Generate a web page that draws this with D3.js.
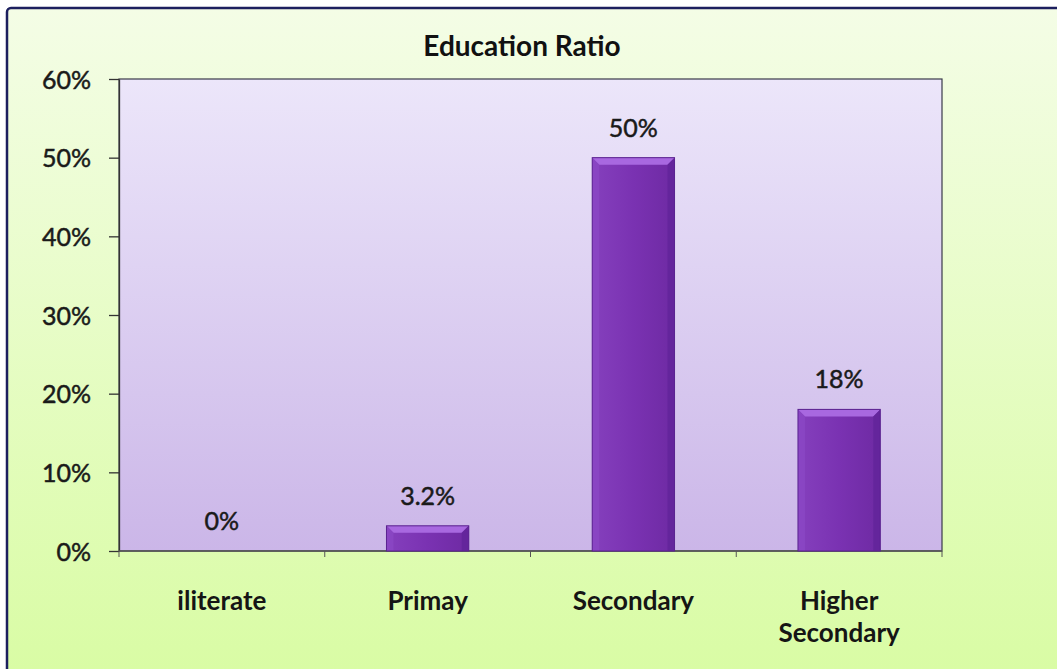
<!DOCTYPE html>
<html><head><meta charset="utf-8">
<script src="https://cdn.jsdelivr.net/npm/d3@7"></script>
<style>html,body{margin:0;padding:0;background:#fff;}svg{display:block;}</style>
</head><body>
<script>
const categories = ["iliterate", "Primay", "Secondary", "Higher Secondary"];
const values = [0, 3.2, 50, 18];
const valueLabels = ["0%", "3.2%", "50%", "18%"];
const yTicks = [0, 10, 20, 30, 40, 50, 60];
const title = "Education Ratio";

const W = 1057, H = 669;
const plot = {left: 119, top: 79, right: 942, bottom: 551};
const FONT = "Lato, 'Open Sans', sans-serif";
const svg = d3.select("body").append("svg").attr("width", W).attr("height", H);
const defs = svg.append("defs");

const bg = defs.append("linearGradient").attr("id","bg").attr("x1",0).attr("y1",0).attr("x2",0).attr("y2",1);
bg.append("stop").attr("offset","0%").attr("stop-color","#f4fde6");
bg.append("stop").attr("offset","100%").attr("stop-color","#d8fca2");
const pg = defs.append("linearGradient").attr("id","pg").attr("x1",0).attr("y1",0).attr("x2",0).attr("y2",1);
pg.append("stop").attr("offset","0%").attr("stop-color","#ece6fa");
pg.append("stop").attr("offset","100%").attr("stop-color","#cbb6e8");
const barG = defs.append("linearGradient").attr("id","barg").attr("x1",0).attr("y1",0).attr("x2",1).attr("y2",0);
barG.append("stop").attr("offset","0%").attr("stop-color","#8540bd");
barG.append("stop").attr("offset","50%").attr("stop-color","#7a32b2");
barG.append("stop").attr("offset","100%").attr("stop-color","#6e2aa3");

svg.append("rect").attr("width",W).attr("height",H).attr("fill","#ffffff");
svg.append("rect").attr("x",7).attr("y",8).attr("width",W+20).attr("height",H+20)
  .attr("rx",4).attr("fill","url(#bg)").attr("stroke","#1c1f5e").attr("stroke-width",2.5);

// plot area
svg.append("rect").attr("x",plot.left).attr("y",plot.top)
  .attr("width",plot.right-plot.left).attr("height",plot.bottom-plot.top)
  .attr("fill","url(#pg)").attr("stroke","#3a3a4a").attr("stroke-width",1.2);

const x = d3.scaleBand().domain(categories).range([plot.left, plot.right])
  .paddingInner(0.6).paddingOuter(0.3);
const y = d3.scaleLinear().domain([0, 60]).range([plot.bottom, plot.top]);

// y axis
const yAxis = svg.append("g").attr("transform",`translate(${plot.left},0)`)
  .call(d3.axisLeft(y).tickValues(yTicks).tickFormat(d => d + "%").tickSize(10).tickSizeOuter(0).tickPadding(18));
yAxis.select(".domain").attr("stroke","#333").attr("stroke-width",1.3);
yAxis.selectAll(".tick line").attr("stroke","#333").attr("stroke-width",1.3);
yAxis.selectAll("text").attr("font-family",FONT).attr("font-size",25)
  .attr("font-weight",400).attr("fill","#1a1a1a").attr("stroke","#1a1a1a").attr("stroke-width",0.5)
  .attr("dy","0.36em");

// x axis
const step = x.step();
const xAxis = svg.append("g").attr("transform",`translate(0,${plot.bottom})`);
xAxis.append("line").attr("x1",plot.left).attr("x2",plot.right).attr("y1",0).attr("y2",0)
  .attr("stroke","#555").attr("stroke-width",1.3);
const bounds = d3.range(categories.length + 1).map(i => plot.left + i * step);
xAxis.selectAll(".xt").data(bounds).join("line").attr("x1",d=>d).attr("x2",d=>d)
  .attr("y1",0).attr("y2",6).attr("stroke","#555").attr("stroke-width",1);

// category labels
const catG = svg.append("g");
categories.forEach(c => {
  const words = c.split(" ");
  const cx = x(c) + x.bandwidth()/2;
  const t = catG.append("text").attr("x",cx).attr("y", 610)
    .attr("text-anchor","middle").attr("font-family",FONT)
    .attr("font-size",26).attr("font-weight",700).attr("fill","#151515");
  words.forEach((w, i) => t.append("tspan").attr("x",cx).attr("dy", i === 0 ? 0 : 32).text(w));
});

// bars with bevel
const bars = svg.append("g");
categories.forEach((c, i) => {
  const v = values[i];
  const x0 = x(c), bw = x.bandwidth();
  const y0 = y(v), yb = y(0);
  const h = yb - y0;
  if (h <= 0) return;
  const b = Math.min(7, h/2);
  const g = bars.append("g");
  g.append("rect").attr("x",x0).attr("y",y0).attr("width",bw).attr("height",h).attr("fill","url(#barg)");
  g.append("path").attr("d",`M${x0},${y0}L${x0+bw},${y0}L${x0+bw-b},${y0+b}L${x0+b},${y0+b}Z`).attr("fill","#a868e0");
  g.append("path").attr("d",`M${x0},${y0}L${x0+b},${y0+b}L${x0+b},${yb}L${x0},${yb}Z`).attr("fill","#8b47c4").attr("opacity",0.8);
  g.append("path").attr("d",`M${x0+bw},${y0}L${x0+bw-b},${y0+b}L${x0+bw-b},${yb}L${x0+bw},${yb}Z`).attr("fill","#62249a").attr("opacity",0.8);
  g.append("rect").attr("x",x0).attr("y",y0).attr("width",bw).attr("height",h)
    .attr("fill","none").attr("stroke","#5a2290").attr("stroke-width",1);
});

// value labels
svg.append("g").selectAll("text").data(categories).join("text")
  .attr("x", c => x(c) + x.bandwidth()/2)
  .attr("y", (c, i) => y(values[i]) - 21)
  .attr("text-anchor","middle").attr("font-family",FONT)
  .attr("font-size",25).attr("font-weight",400).attr("fill","#1a1a1a")
  .attr("stroke","#1a1a1a").attr("stroke-width",0.5)
  .text((c, i) => valueLabels[i]);

// title
svg.append("text").attr("x",522).attr("y",56).attr("text-anchor","middle")
  .attr("font-family",FONT).attr("font-size",28).attr("font-weight",700)
  .attr("fill","#111").text(title);
</script>
</body></html>
